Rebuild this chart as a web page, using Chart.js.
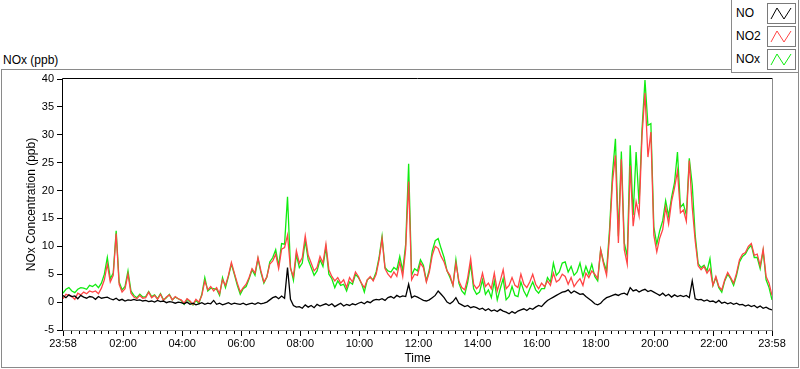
<!DOCTYPE html>
<html>
<head>
<meta charset="utf-8">
<script src="https://cdn.jsdelivr.net/npm/chart.js@4/dist/chart.umd.min.js"></script>
<style>
  html, body { margin: 0; padding: 0; background: #fff; }
  #wrap { position: relative; width: 800px; height: 369px; overflow: hidden;
          font-family: "Liberation Sans", Arial, sans-serif; color: #000; }
  #frame { position: absolute; left: 1px; top: 69px; width: 798px; height: 299px;
           box-sizing: border-box; border: 1px solid #8a8a8a; }
  #title { position: absolute; left: 3px; top: 52px; font-size: 12px; line-height: 16px; }
  #chart { position: absolute; left: 0; top: 0; }
  #legend { position: absolute; left: 731px; top: -1px; width: 68px; height: 74px;
            box-sizing: border-box; border: 1px solid #8a8a8a; background: #fff; }
  .row { position: absolute; left: 0; width: 66px; height: 21px; }
  .row span { position: absolute; left: 4px; top: 2px; font-size: 12px; line-height: 16px; }
  .row svg { position: absolute; left: 35px; top: 0; }
</style>
</head>
<body>
<div id="wrap">
  <div id="frame"></div>
  <div id="title">NOx (ppb)</div>
  <canvas id="chart" width="800" height="369"></canvas>
  <div id="legend"></div>
</div>
<script>
// sampling interval of the series (minutes from 23:58)
const SAMPLE_STEP = 6;

// NO (ppb), one value every 6 minutes starting 23:58
const noValues = [
  1.2, 0.8, 1.3, 1.0, 1.1, 0.6, 1.2, 0.9, 0.7, 1.0,
  0.9, 0.5, 1.0, 0.7, 0.8, 0.9, 0.6, 0.4, 0.7, 0.3,
  0.5, 0.2, 0.4, 0.3, 0.5, 0.3, 0.4, 0.2, 0.3, 0.1,
  0.2, 0.0, 0.3, 0.1, 0.2, -0.1, 0.1, 0.0, -0.2, 0.0,
  -0.1, -0.3, 0.0, -0.4, -0.2, -0.5, -0.3, -0.1, -0.4, -0.2,
  -0.3, 0.3, -0.4, -0.2, -0.5, -0.3, -0.1, -0.4, -0.2, -0.3,
  -0.4, -0.2, -0.5, -0.3, -0.2, -0.4, -0.1, -0.3, -0.2, 0.0,
  0.4, 0.8, 1.0, 0.6, 1.1, 0.7, 6.2, 0.5, -0.6, -0.9,
  -0.8, -1.1, -0.5, -0.9, -0.6, -1.0, -0.4, -0.7, -0.5, -0.3,
  -0.6, -0.3, -0.8, -0.5, -0.2, -0.7, -0.4, -0.6, -0.3, -0.5,
  -0.2, 0.0, -0.3, 0.1, -0.1, 0.3, 0.5, 0.4, 0.6, 0.3,
  0.8, 1.0, 0.7, 1.2, 0.9, 1.1, 1.0, 3.2, 0.8, 1.1,
  0.9, 0.6, 0.3, 0.2, 0.4, 0.8, 1.2, 2.0, 1.4, 0.8,
  0.0, -0.3, 0.1, 0.8, -0.2, -0.5, -0.8, -0.6, -1.0, -0.8,
  -1.0, -1.3, -1.1, -1.5, -1.2, -1.6, -1.4, -1.7, -1.3, -1.6,
  -1.8, -2.1, -1.7, -2.0, -1.6, -1.4, -1.2, -1.5, -1.1, -1.3,
  -0.9, -0.6, -0.8, -0.2, 0.3, 0.6, 0.9, 1.2, 1.5, 1.8,
  1.9, 2.2, 1.6, 2.0, 1.7, 1.4, 1.5, 1.0, 0.6, 0.2,
  -0.3, -0.5, -0.2, 0.4, 0.8, 1.0, 1.2, 1.4, 1.2, 1.5,
  1.6, 1.3, 2.6, 2.0, 2.2, 1.8, 2.1, 2.3, 1.9, 2.1,
  1.8, 1.5, 1.2, 1.6, 1.1, 1.4, 0.9, 1.3, 1.0, 1.2,
  1.0, 1.2, 0.8, 3.8, 0.6, 0.4, 0.5, 0.2, 0.4, 0.1,
  0.2, -0.1, 0.3, -0.2, 0.0, -0.3, -0.1, -0.4, -0.2, -0.5,
  -0.4, -0.7, -0.5, -0.8, -0.6, -1.0, -0.7, -1.1, -0.9, -1.2, -1.4
];

// NO2 (ppb)
const no2Values = [
  0.6, 1.4, 1.2, 1.0, 0.5, 1.6, 1.3, 1.8, 1.5, 2.0,
  1.8, 2.0, 1.5, 2.5, 4.0, 6.8, 3.6, 4.8, 12.3, 3.2,
  1.8, 2.4, 5.0, 1.6, 0.9, 0.6, 1.2, 0.7, 0.8, 1.8,
  0.8, 1.2, 0.5, 1.4, 0.3, 0.9, 1.3, 0.4, 1.0, 0.6,
  0.4, -0.2, 0.6, 0.2, -0.4, 0.5, 0.0, 1.2, 3.8, 2.2,
  2.8, 2.0, 2.6, 1.5, 4.0, 3.0, 4.8, 7.1, 5.2, 3.4,
  1.8, 2.6, 3.2, 4.4, 6.0, 5.2, 8.0, 5.6, 3.6, 4.5,
  6.8, 7.4, 8.6, 6.0, 9.5, 9.8, 12.0, 6.0, 4.6, 9.2,
  7.0, 8.0, 11.9, 8.4, 7.0, 5.6, 6.2, 8.2, 7.0, 10.4,
  5.8, 4.6, 3.8, 4.4, 3.4, 4.0, 2.6, 4.4, 3.6, 5.4,
  4.6, 3.4, 2.6, 4.0, 4.6, 3.8, 5.0, 7.6, 11.4, 6.0,
  5.0, 4.4, 5.4, 4.6, 7.2, 4.6, 9.5, 21.6, 4.0, 5.0,
  4.8, 7.0, 6.2, 3.6, 5.4, 8.4, 10.0, 9.6, 8.2, 7.2,
  5.6, 4.8, 3.0, 7.0, 3.8, 2.6, 2.2, 4.4, 7.8, 3.2,
  2.4, 3.0, 5.2, 2.8, 3.4, 2.4, 5.2, 2.0, 3.8, 5.8,
  2.4, 3.0, 4.4, 3.0, 2.6, 5.0, 3.2, 2.6, 3.6, 5.0,
  3.2, 2.4, 3.4, 2.8, 3.8, 3.0, 5.2, 3.6, 4.0, 5.0,
  4.6, 3.2, 4.4, 2.8, 3.6, 4.2, 3.0, 5.2, 4.4, 5.6,
  5.0, 4.2, 9.4, 6.8, 4.8, 12.0, 21.5, 26.3, 10.6, 25.6,
  9.4, 6.8, 24.5, 13.6, 18.0, 15.5, 29.9, 37.5, 26.0, 30.5,
  12.0, 9.0, 11.5, 13.0, 17.0, 14.0, 18.0, 20.5, 23.5, 16.0,
  16.5, 14.5, 25.4, 17.0, 11.0, 6.5, 5.8, 6.4, 5.2, 6.0,
  3.0, 4.6, 2.8, 2.2, 4.0, 5.3, 4.4, 3.4, 5.2, 7.6,
  8.6, 8.9, 10.0, 10.5, 8.4, 8.6, 6.5, 9.5, 4.6, 3.4, 1.2
];

// NOx (ppb)
const noxValues = [
  1.6, 2.3, 2.6, 2.0, 1.7, 2.3, 2.6, 2.5, 2.3, 3.0,
  2.8, 3.2, 2.6, 3.4, 5.0, 8.0, 4.2, 5.2, 12.8, 3.6,
  2.2, 2.8, 5.6, 2.0, 1.2, 0.8, 1.4, 0.9, 1.0, 1.9,
  1.0, 1.3, 0.6, 1.5, 0.4, 0.8, 1.4, 0.4, 0.9, 0.6,
  0.3, -0.4, 0.5, 0.0, -0.5, 0.3, -0.2, 1.4, 4.4, 2.0,
  2.5, 2.4, 2.3, 1.2, 4.4, 2.6, 4.6, 6.8, 5.0, 3.0,
  1.4, 2.4, 2.8, 4.2, 5.8, 4.8, 7.8, 5.3, 3.4, 4.5,
  7.2, 8.0, 9.4, 6.5, 10.5, 10.4, 18.9, 6.3, 3.9, 8.5,
  6.2, 7.0, 11.0, 7.6, 6.2, 4.8, 5.6, 7.6, 6.4, 9.8,
  5.0, 4.2, 2.6, 3.8, 3.0, 3.2, 2.0, 3.6, 3.2, 5.0,
  4.4, 3.4, 1.8, 4.0, 4.4, 4.0, 5.4, 8.0, 11.8, 6.2,
  5.6, 5.4, 6.2, 5.8, 8.2, 5.6, 10.4, 24.8, 4.8, 6.0,
  5.6, 7.6, 6.6, 3.8, 5.8, 9.2, 11.0, 11.4, 9.6, 8.0,
  5.6, 4.4, 3.0, 7.6, 3.4, 2.0, 1.4, 3.6, 6.8, 2.4,
  1.4, 1.8, 4.0, 1.4, 2.2, 0.8, 3.8, 0.4, 2.4, 4.2,
  0.4, 1.0, 2.8, 1.2, 1.0, 3.6, 2.0, 1.0, 2.4, 3.6,
  2.2, 1.6, 2.4, 2.4, 4.4, 3.6, 7.0, 4.8, 5.4, 7.0,
  7.2, 5.4, 6.4, 4.8, 5.4, 7.0, 4.6, 6.4, 5.0, 6.8,
  4.6, 3.8, 9.4, 7.2, 5.6, 13.0, 23.0, 29.3, 11.8, 27.0,
  10.6, 8.2, 28.1, 15.6, 26.9, 17.6, 31.0, 39.8, 31.7, 32.0,
  13.5, 10.4, 12.8, 14.6, 18.2, 15.4, 18.8, 21.4, 26.9, 17.0,
  17.6, 15.6, 25.8, 21.0, 12.0, 6.9, 6.2, 6.6, 5.6, 7.8,
  3.0, 4.4, 2.6, 1.8, 3.8, 5.0, 4.2, 3.0, 4.8, 7.2,
  8.2, 8.6, 9.6, 10.2, 8.0, 8.0, 6.0, 9.2, 4.0, 2.6, 0.4
];

// x axis ticks (minutes from 23:58) and their labels
const tickMinutes = [0, 122, 242, 362, 482, 602, 722, 842, 962, 1082, 1202, 1322, 1440];
const tickLabels = ['23:58', '02:00', '04:00', '06:00', '08:00', '10:00', '12:00',
                    '14:00', '16:00', '18:00', '20:00', '22:00', '23:58'];

const seriesNames = ['NO', 'NO2', 'NOx'];
const seriesColors = ['#000000', '#ff4545', '#10ec10'];

function toPoints(values) {
    return values.map((v, i) => ({ x: i * SAMPLE_STEP, y: v }));
}

// legend (html, so the text stays real text)
const legendEl = document.getElementById('legend');
seriesNames.forEach((name, i) => {
    const row = document.createElement('div');
    row.className = 'row';
    row.style.top = (3 + i * 23) + 'px';
    row.innerHTML = '<span>' + name + '</span>' +
        '<svg width="29" height="21"><rect x="0.5" y="0.5" width="28" height="20" fill="#fff" stroke="#7a7a7a"/>' +
        '<polyline points="4,16 10,5 17,16 24,5" fill="none" stroke="' + seriesColors[i] + '" stroke-width="1"/></svg>';
    legendEl.appendChild(row);
});

// plot box border + minor ticks on the time axis
const plotFrame = {
    id: 'plotFrame',
    afterDraw(chart) {
        const { ctx, chartArea: a, scales: { x } } = chart;
        ctx.save();
        ctx.lineWidth = 1;
        ctx.strokeStyle = '#000';
        ctx.beginPath();
        for (let t = 17; t < 1440; t += 15) {
            if ((t - 122) % 120 === 0) continue;
            const px = Math.round(x.getPixelForValue(t)) + 0.5;
            ctx.moveTo(px, a.bottom);
            ctx.lineTo(px, a.bottom + 4);
        }
        ctx.stroke();

        // top + left black
        ctx.beginPath();
        ctx.moveTo(a.left - 0.5, a.bottom);
        ctx.lineTo(a.left - 0.5, a.top - 0.5);
        ctx.lineTo(a.right + 0.5, a.top - 0.5);
        ctx.stroke();
        // right + bottom gray
        ctx.strokeStyle = '#8c8c8c';
        ctx.beginPath();
        ctx.moveTo(a.right + 0.5, a.top);
        ctx.lineTo(a.right + 0.5, a.bottom + 0.5);
        ctx.lineTo(a.left, a.bottom + 0.5);
        ctx.stroke();
        ctx.restore();
    }
};

Chart.defaults.font.family = '"Liberation Sans", Arial, sans-serif';
Chart.defaults.color = '#000';

new Chart(document.getElementById('chart'), {
    type: 'line',
    data: {
        datasets: [
            { label: 'NO', data: toPoints(noValues), borderColor: seriesColors[0] },
            { label: 'NO2', data: toPoints(no2Values), borderColor: seriesColors[1] },
            { label: 'NOx', data: toPoints(noxValues), borderColor: seriesColors[2] }
        ]
    },
    options: {
        responsive: false,
        devicePixelRatio: 1,
        animation: false,
        layout: { padding: { top: 79, right: 28, left: 0, bottom: 0 } },
        elements: {
            point: { radius: 0 },
            line: { borderWidth: 1.3, tension: 0, borderJoinStyle: 'miter' }
        },
        plugins: {
            legend: { display: false },
            tooltip: { enabled: false }
        },
        scales: {
            x: {
                type: 'linear',
                min: 0,
                max: 1440,
                afterFit: s => { s.height = 39; },
                afterBuildTicks: s => { s.ticks = tickMinutes.map(v => ({ value: v })); },
                border: { display: false },
                grid: { drawOnChartArea: false, drawTicks: true, tickLength: 6, color: '#000' },
                ticks: {
                    autoSkip: false,
                    maxRotation: 0,
                    padding: 1,
                    font: { size: 11 },
                    callback: (v, i) => tickLabels[i]
                },
                title: { display: true, text: 'Time', font: { size: 12 }, padding: { bottom: 3 } }
            },
            y: {
                min: -5,
                max: 40,
                afterFit: s => { s.width = 63; },
                border: { display: false },
                grid: { drawOnChartArea: false, drawTicks: true, tickLength: 6, color: '#000' },
                ticks: { stepSize: 5, padding: 3, font: { size: 11 } },
                title: { display: true, text: 'NOx Concentration (ppb)', font: { size: 12 }, padding: { top: 24 } }
            }
        }
    },
    plugins: [plotFrame]
});
</script>
</body>
</html>
